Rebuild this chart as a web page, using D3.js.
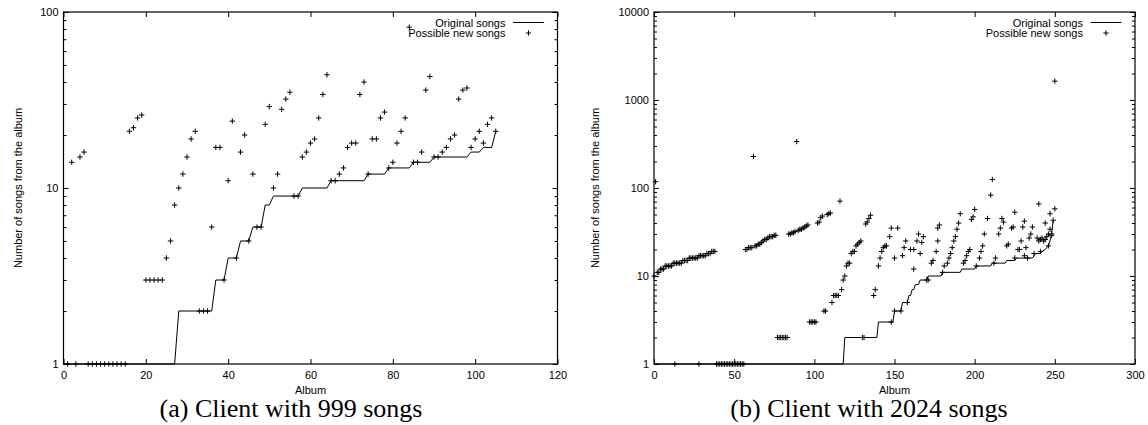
<!DOCTYPE html>
<html>
<head>
<meta charset="utf-8">
<script src="https://cdn.jsdelivr.net/npm/d3@7/dist/d3.min.js"></script>
<style>
body { margin: 0; background: #fff; }
text { font-family: "Liberation Sans", Arial, sans-serif; }
</style>
</head>
<body>
<script>
// ---- data: (a) client with 999 songs ----
var xTicksA = [0, 20, 40, 60, 80, 100, 120];
var yTicksA = [1, 10, 100];
var yLabelsA = ["1", "10", "100"];
// corners of the "Original songs" line [album, songs]
var origA = [[0,1],[27,1],[28,2],[36,2],[37,3],[39,3],[40,4],[42,4],[43,5],[45,5],[46,6],[48,6],
    [49,8],[50,8],[51,9],[57,9],[58,10],[64,10],[65,11],[73,11],[74,12],[78,12],[79,13],[84,13],
    [85,14],[89,14],[90,15],[98,15],[99,16],[101,16],[102,17],[104,17],[105,21]];
// "Possible new songs" [album, songs]
var newA = [[1,1],[2,14],[3,1],[4,15],[5,16],[6,1],[7,1],[8,1],[9,1],[10,1],[11,1],[12,1],[13,1],[14,1],[15,1],
    [16,21],[17,22],[18,25],[19,26],[20,3],[21,3],[22,3],[23,3],[24,3],[25,4],[26,5],[27,8],[28,10],[29,12],
    [30,15],[31,19],[32,21],[33,2],[34,2],[35,2],[36,6],[37,17],[38,17],[39,3],[40,11],[41,24],[42,4],[43,16],
    [44,20],[45,5],[46,12],[47,6],[48,6],[49,23],[50,29],[51,10],[52,12],[53,28],[54,32],[55,35],[56,9],[57,9],
    [58,15],[59,16],[60,18],[61,19],[62,25],[63,34],[64,44],[65,11],[66,11],[67,12],[68,13],[69,17],[70,18],
    [71,18],[72,34],[73,40],[74,12],[75,19],[76,19],[77,25],[78,27],[79,13],[80,14],[81,18],[82,21],[83,25],
    [84,82],[85,14],[86,14],[87,16],[88,36],[89,43],[90,15],[91,15],[92,16],[93,17],[94,19],[95,20],[96,32],
    [97,36],[98,37],[99,17],[100,19],[101,21],[102,18],[103,23],[104,25],[105,21]];

// ---- data: (b) client with 2024 songs ----
var xTicksB = [0, 50, 100, 150, 200, 250, 300];
var yTicksB = [1, 10, 100, 1000, 10000];
var yLabelsB = ["1", "10", "100", "1000", "10000"];
var origB = [[0,1],[118,1],[119,2],[139,2],[140,3],[149,3],[150,4],[154,4],[155,5],[158,5],[159,6],[160,6],
    [161,7],[162,7],[163,8],[165,8],[166,9],[170,9],[171,10],[179,10],[180,11],[191,11],[192,12],[200,12],
    [201,13],[210,13],[211,14],[219,14],[220,15],[225,15],[226,16],[236,16],[237,17],[238,18],[241,18],
    [242,19],[244,20],[245,21],[246,22],[247,25],[248,30],[249,43]];
var newB = [[0,10],[1,118],[2,11],[3,11],[4,12],[5,12],[6,12],[7,13],[8,13],[9,13],[10,13],[11,13],[12,14],
    [13,14],[14,14],[15,14],[16,14],[17,14],[18,15],[19,15],[20,15],[21,15],[22,16],[23,16],[24,16],[25,16],
    [26,16],[27,16],[28,17],[29,17],[30,17],[31,17],[32,17],[33,18],[34,18],[35,18],[36,19],[37,19],[38,19],
    [13,1],[28,1],[39,1],[40,1],[41,1],[42,1],[43,1],[44,1],[45,1],[46,1],[47,1],[48,1],[49,1],[50,1],[51,1],
    [52,1],[53,1],[54,1],[55,1],[56,1],
    [57,20],[58,20],[59,21],[60,21],[61,21],[62,228],[63,22],[64,22],[65,23],[66,23],[67,24],[68,25],[69,26],
    [70,26],[71,27],[72,28],[73,28],[74,28],[75,29],[76,29],
    [77,2],[78,2],[79,2],[80,2],[81,2],[82,2],[83,2],
    [84,30],[85,30],[86,31],[87,31],[88,32],[89,337],[90,33],[91,34],[92,34],[93,35],[94,36],[95,37],[96,38],
    [97,3],[98,3],[99,3],[100,3],[101,3],
    [102,40],[103,41],[104,46],[105,48],[106,4],[107,4],[108,50],[109,51],[110,52],[111,5],[112,6],[113,6],
    [114,6],[115,6],[116,71],[117,7],[118,9],[119,10],[120,13],[121,14],[122,14],[123,18],[124,19],[125,19],
    [126,22],[127,23],[128,24],[129,25],[130,2],[131,2],[132,39],[133,41],[134,45],[135,49],[137,6],[138,7],
    [140,13],[141,16],[142,19],[143,21],[144,22],[145,22],[147,28],[148,35],[152,35],[148,3],[150,4],[154,4],
    [158,5],[150,16],[155,17],[156,21],[157,25],[160,20],[162,20],[166,18],[164,25],[165,30],[168,28],[167,24],
    [162,12],[170,9],[171,9],[173,14],[174,15],[176,19],[177,25],[177,35],[178,38],[180,11],[181,13],[183,14],
    [184,16],[185,18],[186,21],[187,25],[188,28],[189,34],[190,40],[191,51],[193,14],[194,15],[195,17],
    [196,19],[197,20],[198,44],[199,47],[200,57],[201,13],[203,16],[204,19],[205,22],[206,30],[208,45],
    [210,83],[211,125],[212,14],[213,16],[215,30],[216,35],[217,45],[218,41],[220,22],[221,23],[223,35],
    [224,36],[225,53],[225,16],[227,20],[228,20],[229,25],[230,36],[231,42],[231,17],[232,21],[233,16],
    [234,27],[235,30],[236,36],[237,18],[239,27],[240,66],[240,25],[241,19],[241,26],[242,27],[243,25],
    [244,26],[244,40],[245,28],[246,30],[246,22],[247,51],[247,34],[248,29],[248,30],[249,43],[250,58],
    [250,1637]];

var svg = d3.select("body")
    .append("svg")
    .attr("width", 1148)
    .attr("height", 425)
    .style("display", "block");

var plus = "M-2.7,0H2.7M0,-2.7V2.7";

function drawPanel(p) {
    var g = svg.append("g");
    var x = d3.scaleLinear().domain([p.xTicks[0], p.xTicks[p.xTicks.length - 1]]).range([p.left, p.right]);
    var y = d3.scaleLog().domain([p.yTicks[0], p.yTicks[p.yTicks.length - 1]]).range([364, 12]);
    var minor = y.ticks().filter(function(d) { return p.yTicks.indexOf(d) < 0; });

    function clean(sel) {
        sel.select(".domain").remove();
        sel.selectAll("line").attr("stroke", "#000");
        sel.selectAll("text").attr("fill", "#000").style("font-size", "11px")
            .style("font-family", "'Liberation Sans', Arial, sans-serif");
    }

    g.append("g").attr("transform", "translate(0,364)")
        .call(d3.axisBottom(x).tickValues(p.xTicks).tickSizeInner(-5).tickSizeOuter(0).tickPadding(7))
        .call(clean);
    g.append("g").attr("transform", "translate(0,12)")
        .call(d3.axisTop(x).tickValues(p.xTicks).tickSizeInner(-5).tickSizeOuter(0).tickFormat(""))
        .call(clean);
    g.append("g").attr("transform", "translate(" + p.left + ",0)")
        .call(d3.axisLeft(y).tickValues(p.yTicks).tickSizeInner(-5).tickSizeOuter(0).tickPadding(5)
            .tickFormat(function(d, i) { return p.yLabels[i]; }))
        .call(clean);
    g.append("g").attr("transform", "translate(" + p.left + ",0)")
        .call(d3.axisLeft(y).tickValues(minor).tickSizeInner(-3).tickSizeOuter(0).tickFormat(""))
        .call(clean);
    g.append("g").attr("transform", "translate(" + p.right + ",0)")
        .call(d3.axisRight(y).tickValues(p.yTicks).tickSizeInner(-5).tickSizeOuter(0).tickFormat(""))
        .call(clean);
    g.append("g").attr("transform", "translate(" + p.right + ",0)")
        .call(d3.axisRight(y).tickValues(minor).tickSizeInner(-3).tickSizeOuter(0).tickFormat(""))
        .call(clean);

    // original songs
    g.append("path")
        .datum(p.orig)
        .attr("fill", "none")
        .attr("stroke", "#000")
        .attr("stroke-width", 1)
        .attr("d", d3.line().x(function(d) { return x(d[0]); }).y(function(d) { return y(d[1]); }));

    // possible new songs
    g.selectAll(".pt")
        .data(p.pts)
        .enter()
        .append("path")
        .attr("class", "pt")
        .attr("transform", function(d) { return "translate(" + x(d[0]) + "," + y(d[1]) + ")"; })
        .attr("d", plus)
        .attr("stroke", "#000")
        .attr("stroke-width", 1);

    // frame
    g.append("rect")
        .attr("x", p.left).attr("y", 12)
        .attr("width", p.right - p.left).attr("height", 352)
        .attr("fill", "none").attr("stroke", "#000").attr("stroke-width", 1.2);

    // legend
    g.append("text").attr("x", p.right - 52).attr("y", 26.5).attr("text-anchor", "end")
        .style("font-size", "11px").text("Original songs");
    g.append("line").attr("x1", p.right - 44.5).attr("x2", p.right - 13.5)
        .attr("y1", 22.5).attr("y2", 22.5).attr("stroke", "#000");
    g.append("text").attr("x", p.right - 52).attr("y", 36.5).attr("text-anchor", "end")
        .style("font-size", "11px").text("Possible new songs");
    g.append("path").attr("transform", "translate(" + (p.right - 29) + ",33)")
        .attr("d", plus).attr("stroke", "#000");

    // axis titles
    g.append("text").attr("x", (p.left + p.right) / 2).attr("y", 394).attr("text-anchor", "middle")
        .style("font-size", "11px").text("Album");
    g.append("text").attr("transform", "translate(" + p.yTitleX + ",188) rotate(-90)")
        .attr("text-anchor", "middle").style("font-size", "11px")
        .text("Number of songs from the album");

    // caption
    g.append("text").attr("x", p.capX).attr("y", 417).attr("text-anchor", "middle")
        .style("font-family", "'Liberation Serif', 'Times New Roman', serif")
        .style("font-size", "26px").text(p.caption);
}

drawPanel({left: 63.5, right: 557.5, xTicks: xTicksA, yTicks: yTicksA, yLabels: yLabelsA,
    orig: origA, pts: newA, yTitleX: 21.5, capX: 291, caption: "(a) Client with 999 songs"});
drawPanel({left: 654, right: 1135, xTicks: xTicksB, yTicks: yTicksB, yLabels: yLabelsB,
    orig: origB, pts: newB, yTitleX: 598.5, capX: 869, caption: "(b) Client with 2024 songs"});
</script>
</body>
</html>
